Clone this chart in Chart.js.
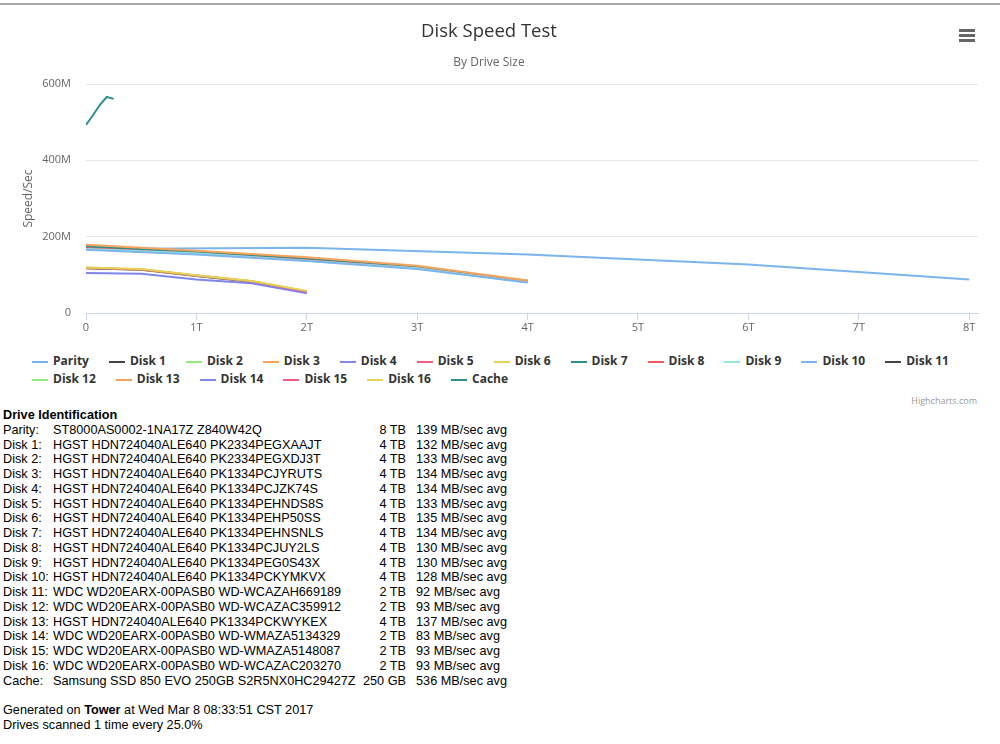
<!DOCTYPE html>
<html lang="en">
  <head>
    <meta charset="utf-8" />
    <title>Disk Speed Test</title>
    <style>
      * {
        margin: 0;
        padding: 0;
      }
      body {
        width: 1000px;
        height: 744px;
        position: relative;
        overflow: hidden;
        background: #fff;
        font-family: "Liberation Sans", Arial, sans-serif;
      }
      .topLine {
        position: absolute;
        left: 0;
        top: 3px;
        width: 1000px;
        height: 2px;
        background: #a8a8a8;
      }
      .chartBox {
        position: absolute;
        left: 0;
        top: 0;
        width: 1000px;
        height: 345px;
      }
      .menu {
        position: absolute;
        left: 959px;
        top: 29px;
        width: 16px;
      }
      .menu span {
        display: block;
        height: 3px;
        background: #666;
        margin-bottom: 2px;
      }
      .legend {
        position: absolute;
        left: 32px;
        top: 352px;
        font: bold 12px "Open Sans", sans-serif;
        color: #333;
        white-space: nowrap;
      }
      .legend .row {
        height: 18px;
        line-height: 18px;
      }
      .legend .item {
        display: inline-block;
        margin-right: 20px;
      }
      .legend .sym {
        display: inline-block;
        width: 16px;
        height: 2px;
        vertical-align: middle;
        margin-right: 5px;
      }
      .credits {
        position: absolute;
        right: 23px;
        top: 394px;
        font: 9px "Open Sans", sans-serif;
        color: #999;
      }
      .info {
        position: absolute;
        left: 3px;
        top: 408px;
        font-size: 12.7px;
        line-height: 14.75px;
        color: #000;
      }
      .info table {
        border-collapse: collapse;
        table-layout: fixed;
      }
      .info td {
        padding: 0;
        white-space: nowrap;
      }
    </style>
  </head>
  <body>
    <div class="topLine"></div>
    <div class="chartBox">
      <canvas id="myChart"></canvas>
    </div>
    <div class="menu"><span></span><span></span><span></span></div>
    <div class="legend" id="legend"></div>
    <div class="credits">Highcharts.com</div>
    <div class="info" id="info"></div>

    <script src="https://cdn.jsdelivr.net/npm/chart.js"></script>

    <script>
      // scan positions (TB) at 0/25/50/75/100% of each drive size
      const x8TB = [0, 2, 4, 6, 8];
      const x4TB = [0, 1, 2, 3, 4];
      const x2TB = [0, 0.5, 1, 1.5, 2];
      const xCache = [0, 0.0625, 0.125, 0.1875, 0.25];

      // speeds in MB/sec
      const parity = [168, 171, 153, 127, 88];
      const disk1 = [172, 158, 140, 118, 82];
      const disk2 = [174, 159, 141, 119, 83];
      const disk3 = [176, 160, 142, 120, 84];
      const disk4 = [175, 160, 143, 121, 83];
      const disk5 = [173, 159, 141, 120, 82];
      const disk6 = [177, 161, 143, 121, 85];
      const disk7 = [175, 160, 142, 121, 84];
      const disk8 = [169, 155, 138, 117, 81];
      const disk9 = [168, 156, 137, 117, 80];
      const disk10 = [166, 153, 136, 115, 80];
      const disk11 = [117, 113, 97, 82, 56];
      const disk12 = [119, 114, 98, 83, 57];
      const disk13 = [179, 163, 146, 124, 85];
      const disk14 = [105, 103, 88, 78, 52];
      const disk15 = [118, 114, 98, 83, 56];
      const disk16 = [119, 115, 99, 84, 58];
      const cache = [493, 518, 545, 566, 561];

      const seriesNames = [
        "Parity", "Disk 1", "Disk 2", "Disk 3", "Disk 4", "Disk 5", "Disk 6",
        "Disk 7", "Disk 8", "Disk 9", "Disk 10", "Disk 11", "Disk 12",
        "Disk 13", "Disk 14", "Disk 15", "Disk 16", "Cache",
      ];
      const seriesX = [
        x8TB, x4TB, x4TB, x4TB, x4TB, x4TB, x4TB, x4TB, x4TB, x4TB, x4TB,
        x2TB, x2TB, x4TB, x2TB, x2TB, x2TB, xCache,
      ];
      const seriesY = [
        parity, disk1, disk2, disk3, disk4, disk5, disk6, disk7, disk8, disk9,
        disk10, disk11, disk12, disk13, disk14, disk15, disk16, cache,
      ];
      const seriesColors = [
        "#7cb5ec", "#434348", "#90ed7d", "#f7a35c", "#8085e9", "#f15c80",
        "#e4d354", "#2b908f", "#f45b5b", "#91e8e1", "#7cb5ec", "#434348",
        "#90ed7d", "#f7a35c", "#8085e9", "#f15c80", "#e4d354", "#2b908f",
      ];

      const xTicks = [0, 1, 2, 3, 4, 5, 6, 7, 8];
      const yTicks = [0, 200, 400, 600];

      // drive identification table
      const driveLabels = [
        "Parity:", "Disk 1:", "Disk 2:", "Disk 3:", "Disk 4:", "Disk 5:",
        "Disk 6:", "Disk 7:", "Disk 8:", "Disk 9:", "Disk 10:", "Disk 11:",
        "Disk 12:", "Disk 13:", "Disk 14:", "Disk 15:", "Disk 16:", "Cache:",
      ];
      const driveModels = [
        "ST8000AS0002-1NA17Z Z840W42Q",
        "HGST HDN724040ALE640 PK2334PEGXAAJT",
        "HGST HDN724040ALE640 PK2334PEGXDJ3T",
        "HGST HDN724040ALE640 PK1334PCJYRUTS",
        "HGST HDN724040ALE640 PK1334PCJZK74S",
        "HGST HDN724040ALE640 PK1334PEHNDS8S",
        "HGST HDN724040ALE640 PK1334PEHP50SS",
        "HGST HDN724040ALE640 PK1334PEHNSNLS",
        "HGST HDN724040ALE640 PK1334PCJUY2LS",
        "HGST HDN724040ALE640 PK1334PEG0S43X",
        "HGST HDN724040ALE640 PK1334PCKYMKVX",
        "WDC WD20EARX-00PASB0 WD-WCAZAH669189",
        "WDC WD20EARX-00PASB0 WD-WCAZAC359912",
        "HGST HDN724040ALE640 PK1334PCKWYKEX",
        "WDC WD20EARX-00PASB0 WD-WMAZA5134329",
        "WDC WD20EARX-00PASB0 WD-WMAZA5148087",
        "WDC WD20EARX-00PASB0 WD-WCAZAC203270",
        "Samsung SSD 850 EVO 250GB S2R5NX0HC29427Z",
      ];
      const driveSizes = [
        "8 TB", "4 TB", "4 TB", "4 TB", "4 TB", "4 TB", "4 TB", "4 TB", "4 TB",
        "4 TB", "4 TB", "2 TB", "2 TB", "4 TB", "2 TB", "2 TB", "2 TB", "250 GB",
      ];
      const avgSpeeds = [
        139, 132, 133, 134, 134, 133, 135, 134, 130, 130, 128, 92, 93, 137, 83,
        93, 93, 536,
      ];

      Chart.defaults.font.family = '"Open Sans", sans-serif';

      const datasets = seriesNames.map((name, i) => ({
        label: name,
        data: seriesX[i].map((x, j) => ({ x: x, y: seriesY[i][j] })),
        borderColor: seriesColors[i],
        backgroundColor: seriesColors[i],
        borderWidth: 2,
        pointRadius: 0,
        fill: false,
        tension: 0,
        order: -i,
      }));

      const config = {
        type: "line",
        data: { datasets: datasets },
        options: {
          responsive: true,
          maintainAspectRatio: false,
          animation: false,
          layout: { padding: { left: 0, right: 22, top: 0, bottom: 0 } },
          plugins: {
            legend: { display: false },
            tooltip: { enabled: false },
            title: {
              display: true,
              text: "Disk Speed Test",
              color: "#333",
              font: { size: 18.5, weight: "normal" },
              padding: { top: 20.5, bottom: 0 },
            },
            subtitle: {
              display: true,
              text: "By Drive Size",
              color: "#666",
              font: { size: 12, weight: "normal" },
              padding: { top: 12.7, bottom: 14.2 },
            },
          },
          scales: {
            x: {
              type: "linear",
              min: 0,
              max: 8.08,
              afterBuildTicks: (scale) => {
                scale.ticks = xTicks.map((v) => ({ value: v }));
              },
              afterFit: (scale) => {
                scale.height = 32;
              },
              ticks: {
                color: "#666",
                font: { size: 11 },
                padding: 1,
                maxRotation: 0,
                callback: (v) => (v === 0 ? "0" : v + "T"),
              },
              grid: {
                drawOnChartArea: false,
                drawTicks: true,
                tickLength: 7,
                color: "#ccd6eb",
              },
              border: { display: true, color: "#ccd6eb" },
            },
            y: {
              min: 0,
              max: 600,
              afterBuildTicks: (scale) => {
                scale.ticks = yTicks.map((v) => ({ value: v }));
              },
              afterFit: (scale) => {
                scale.width = 86;
              },
              ticks: {
                color: "#666",
                font: { size: 11 },
                padding: 15,
                callback: (v) => (v === 0 ? "0" : v + "M"),
              },
              grid: { color: "#e6e6e6", drawTicks: false },
              border: { display: false },
              title: {
                display: true,
                text: "Speed/Sec",
                color: "#666",
                font: { size: 12 },
                padding: { top: 21, bottom: 0 },
              },
            },
          },
        },
      };

      const myChart = new Chart(document.getElementById("myChart"), config);

      // legend in two rows, like the original
      const legendEl = document.getElementById("legend");
      let rowHtml = "";
      let html = "";
      seriesNames.forEach((name, i) => {
        rowHtml +=
          '<span class="item"><span class="sym" style="background:' +
          seriesColors[i] + '"></span>' + name + "</span>";
        if (i === 11 || i === seriesNames.length - 1) {
          html += '<div class="row">' + rowHtml + "</div>";
          rowHtml = "";
        }
      });
      legendEl.innerHTML = html;

      // drive identification text
      let rows =
        '<div style="font-weight:bold">Drive Identification</div><table>' +
        '<colgroup><col style="width:50px"><col style="width:310px">' +
        '<col style="width:43px"><col style="width:150px"></colgroup>';
      driveLabels.forEach((label, i) => {
        rows +=
          "<tr><td>" + label + "</td><td>" + driveModels[i] +
          '</td><td style="text-align:right">' + driveSizes[i] +
          '</td><td style="padding-left:10px">' + avgSpeeds[i] +
          " MB/sec avg</td></tr>";
      });
      rows += "</table><div>&nbsp;</div>";
      rows += "<div>Generated on <b>Tower</b> at Wed Mar 8 08:33:51 CST 2017</div>";
      rows += "<div>Drives scanned 1 time every 25.0%</div>";
      document.getElementById("info").innerHTML = rows;
    </script>
  </body>
</html>
